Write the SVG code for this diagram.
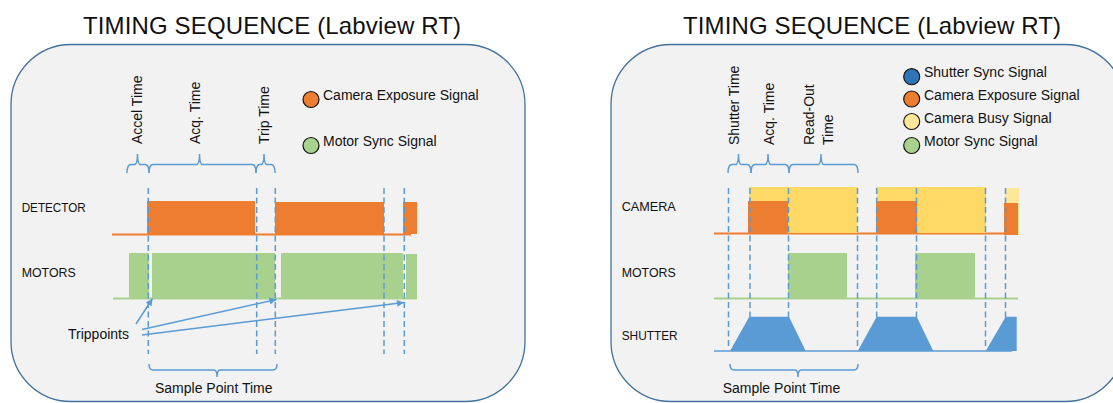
<svg xmlns="http://www.w3.org/2000/svg" width="1113" height="403" viewBox="0 0 1113 403">
<defs>
<style>
text{font-family:"Liberation Sans",Arial,sans-serif;fill:#111;}
.title{font-size:24px;}
.lbl{font-size:14px;}
.cap{font-size:13.5px;}
.panel{fill:#F2F2F2;stroke:#41719C;stroke-width:1.3;}
.dash{stroke:#5B9BD5;stroke-width:1.5;stroke-dasharray:6 3.5;fill:none;}
.brace{stroke:#5B9BD5;stroke-width:1.5;fill:none;}
.arrow{stroke:#5B9BD5;stroke-width:1.5;fill:none;marker-end:url(#ah);}
.or{fill:#ED7D31;}
.gr{fill:#A9D18E;}
.ye{fill:#FFD966;}
.bl{fill:#5B9BD5;}
.orl{stroke:#ED7D31;stroke-width:2;}
.grl{stroke:#A9D18E;stroke-width:2;}
.bll{stroke:#5B9BD5;stroke-width:1.5;}
.leg{stroke:#111;stroke-width:1.2;}
</style>
<marker id="ah" viewBox="0 0 10 10" refX="10" refY="5" markerWidth="9" markerHeight="7" markerUnits="userSpaceOnUse" orient="auto">
<path d="M0,0 L10,5 L0,10 z" fill="#5B9BD5"/>
</marker>
</defs>
<rect width="1113" height="403" fill="#FFFFFF"/>

<g id="left-panel">
<rect class="panel" x="11" y="44.5" width="514" height="357" rx="60" ry="60"/>
<text class="title" x="83" y="34" textLength="378">TIMING SEQUENCE (Labview RT)</text>
</g>
<g id="right-panel">
<rect class="panel" x="611" y="44.5" width="514" height="357" rx="60" ry="60"/>
<text class="title" x="683" y="34" textLength="378">TIMING SEQUENCE (Labview RT)</text>
</g>

<g id="left-legend">
<circle class="or leg" cx="311" cy="99.5" r="8"/>
<text class="lbl" x="323" y="99.5">Camera Exposure Signal</text>
<circle class="gr leg" cx="311" cy="145.5" r="8"/>
<text class="lbl" x="323" y="146">Motor Sync Signal</text>
</g>

<g id="right-legend">
<circle cx="911.7" cy="76.7" r="8" fill="#2E75B6" class="leg"/>
<text class="lbl" x="924" y="77">Shutter Sync Signal</text>
<circle class="or leg" cx="911.7" cy="99" r="8"/>
<text class="lbl" x="924" y="99.5">Camera Exposure Signal</text>
<circle cx="911.7" cy="121.5" r="8" fill="#FFE699" class="leg"/>
<text class="lbl" x="924" y="122.5">Camera Busy Signal</text>
<circle class="gr leg" cx="911.7" cy="145.5" r="8"/>
<text class="lbl" x="924" y="146">Motor Sync Signal</text>
</g>

<g id="left-phase-labels">
<text class="lbl" transform="translate(141.7,144) rotate(-90)">Accel Time</text>
<text class="lbl" transform="translate(200,144) rotate(-90)">Acq. Time</text>
<text class="lbl" transform="translate(269.3,144) rotate(-90)">Trip Time</text>
</g>
<g id="right-phase-labels">
<text class="lbl" transform="translate(738.5,145) rotate(-90)">Shutter Time</text>
<text class="lbl" transform="translate(773.5,145) rotate(-90)">Acq. Time</text>
<text class="lbl" transform="translate(813.5,145) rotate(-90)">Read-Out</text>
<text class="lbl" transform="translate(832.7,145) rotate(-90)">Time</text>
</g>

<g id="row-labels">
<text class="cap" x="21.7" y="211.5" textLength="64" lengthAdjust="spacingAndGlyphs">DETECTOR</text>
<text class="cap" x="21.7" y="276.7" textLength="54" lengthAdjust="spacingAndGlyphs">MOTORS</text>
<text class="cap" x="621.7" y="211" textLength="54" lengthAdjust="spacingAndGlyphs">CAMERA</text>
<text class="cap" x="621.7" y="276.7" textLength="54" lengthAdjust="spacingAndGlyphs">MOTORS</text>
<text class="cap" x="621.7" y="340" textLength="56" lengthAdjust="spacingAndGlyphs">SHUTTER</text>
</g>

<g id="left-detector-signal">
<line class="orl" x1="112" y1="234.5" x2="411" y2="234.5"/>
<rect class="or" x="147" y="201" width="108" height="33"/>
<rect class="or" x="275" y="202" width="109" height="32"/>
<rect class="or" x="403" y="202" width="14" height="32"/>
</g>
<g id="left-motor-signal">
<line class="grl" x1="113" y1="298.5" x2="417" y2="298.5"/>
<rect class="gr" x="129" y="253" width="20" height="45"/>
<rect class="gr" x="152" y="253" width="123" height="45"/>
<rect class="gr" x="281" y="253" width="122" height="45"/>
<rect class="gr" x="406" y="254" width="11" height="44"/>
</g>

<g id="right-camera-signal">
<line class="orl" x1="714" y1="233.5" x2="1005" y2="233.5"/>
<rect class="ye" x="749" y="187" width="108" height="46"/>
<rect class="or" x="748" y="201" width="40" height="32"/>
<rect class="ye" x="877" y="187" width="109" height="46"/>
<rect class="or" x="876" y="201" width="41" height="32"/>
<rect x="1005" y="188" width="14" height="47" fill="#FFE699"/>
<rect class="or" x="1004" y="203" width="14" height="32"/>
</g>
<g id="right-motor-signal">
<line class="grl" x1="714" y1="298.5" x2="1018" y2="298.5"/>
<rect class="gr" x="788" y="253" width="59" height="45"/>
<rect class="gr" x="915" y="253" width="60" height="45"/>
</g>
<g id="right-shutter-signal">
<line class="bll" x1="714" y1="351" x2="1012" y2="351"/>
<polygon class="bl" points="730,351 749.3,316.7 789,316.7 805.7,351"/>
<polygon class="bl" points="857.7,351 876.7,316.7 916.7,316.7 933.3,351"/>
<polygon class="bl" points="985.7,351 1005.7,316.7 1016.7,316.7 1016.7,351"/>
</g>

<g id="connectors">
<g id="left-dashes">
<line class="dash" x1="148.3" y1="188" x2="148.3" y2="354"/>
<line class="dash" x1="256.7" y1="188" x2="256.7" y2="354"/>
<line class="dash" x1="275.3" y1="188" x2="275.3" y2="354"/>
<line class="dash" x1="384" y1="188" x2="384" y2="354"/>
<line class="dash" x1="404.3" y1="188" x2="404.3" y2="354"/>
</g>
<g id="right-dashes">
<line class="dash" x1="728.5" y1="188" x2="728.5" y2="348"/>
<line class="dash" x1="750" y1="188" x2="750" y2="348"/>
<line class="dash" x1="788.5" y1="188" x2="788.5" y2="348"/>
<line class="dash" x1="857.5" y1="188" x2="857.5" y2="348"/>
<line class="dash" x1="876.7" y1="188" x2="876.7" y2="348"/>
<line class="dash" x1="916.5" y1="188" x2="916.5" y2="348"/>
<line class="dash" x1="985.5" y1="188" x2="985.5" y2="348"/>
<line class="dash" x1="1005.5" y1="188" x2="1005.5" y2="348"/>
</g>
<g id="braces">
<path class="brace" d="M127 173 Q127 164.5 131 164.5 H134.5 Q137.5 164.5 137.5 154 Q137.5 164.5 140.5 164.5 H145 Q149 164.5 149 173"/>
<path class="brace" d="M149 173 Q149 164.5 153 164.5 H196.5 Q199.5 164.5 199.5 154 Q199.5 164.5 202.5 164.5 H252 Q256 164.5 256 173"/>
<path class="brace" d="M256 173 Q256 164.5 260 164.5 H261 Q264 164.5 264 154 Q264 164.5 267 164.5 H271 Q275 164.5 275 173"/>
<path class="brace" d="M728 173 Q728 164.5 732 164.5 H735.5 Q738.5 164.5 738.5 154 Q738.5 164.5 741.5 164.5 H747 Q751 164.5 751 173"/>
<path class="brace" d="M751 173 Q751 164.5 755 164.5 H765 Q768 164.5 768 154 Q768 164.5 771 164.5 H785 Q789 164.5 789 173"/>
<path class="brace" d="M789 173 Q789 164.5 793 164.5 H818 Q821 164.5 821 154 Q821 164.5 824 164.5 H854 Q858 164.5 858 173"/>
<path class="brace" d="M149 364 Q149 370 153 370 H214 Q217 370 217 377 Q217 370 220 370 H273 Q277 370 277 364"/>
<path class="brace" d="M730 364 Q730 370 734 370 H795 Q798 370 798 377 Q798 370 801 370 H854 Q858 370 858 364"/>
</g>
<g id="trippoint-arrows">
<line class="arrow" x1="136" y1="324" x2="152.5" y2="298.5"/>
<line class="arrow" x1="142" y1="329.5" x2="276.5" y2="299.5"/>
<line class="arrow" x1="142" y1="335" x2="404" y2="302.5"/>
</g>
</g>

<g id="bottom-labels">
<text class="lbl" x="68" y="339">Trippoints</text>
<text class="lbl" x="155" y="393.3">Sample Point Time</text>
<text class="lbl" x="722.7" y="393.3">Sample Point Time</text>
</g>
</svg>
